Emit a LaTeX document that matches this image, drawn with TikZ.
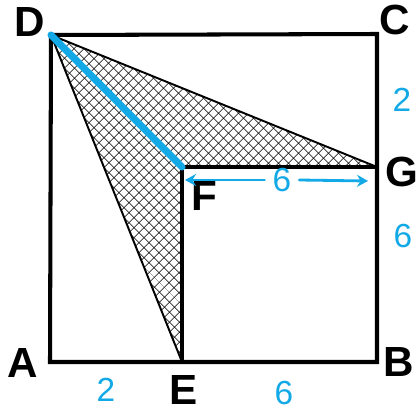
\documentclass[tikz,border=0pt]{standalone}
\usepackage{fontspec}
\setmainfont{Liberation Sans}
\usetikzlibrary{arrows.meta,patterns.meta}
\definecolor{skyblue}{HTML}{12A9E6}

\begin{document}
\begin{tikzpicture}[
  x=0.02cm, y=-0.02cm,
  side/.style={line width=2.3pt, black, line join=miter},
  thin side/.style={line width=1.1pt, black},
  hatch/.style={pattern={Lines[angle=45,distance=4pt,line width=0.4pt]}},
  hatchb/.style={pattern={Lines[angle=-45,distance=4pt,line width=0.4pt]}},
  lbl/.style={font=\fontsize{24}{24}\selectfont\bfseries, inner sep=0pt},
  num/.style={font=\fontsize{19}{19}\selectfont, text=skyblue, inner sep=1pt},
  blueline/.style={line width=4pt, skyblue, line cap=round},
  dim/.style={-{Stealth[length=2.2mm,width=2.4mm]}, line width=1.6pt, skyblue, line cap=round}
]
\useasboundingbox (0,0) rectangle (418,412);

%% Corner points
\coordinate (A) at (50,362);
\coordinate (B) at (377,362);
\coordinate (C) at (377,34);
\coordinate (D) at (51,35);
\coordinate (E) at (182,362);
\coordinate (F) at (182,167);
\coordinate (G) at (377,167);

%% Shaded triangles
\fill[hatch] (D) -- (F) -- (G) -- cycle;
\fill[hatchb] (D) -- (F) -- (G) -- cycle;
\fill[hatch] (D) -- (E) -- (F) -- cycle;
\fill[hatchb] (D) -- (E) -- (F) -- cycle;

%% Square and inner lines
\draw[thin side] (D) -- (G);
\draw[thin side] (D) -- (E);
\draw[side] (E) -- (F) -- (G);
\draw[side] (A) -- (B) -- (C) -- (D) -- cycle;
\draw[blueline] (D) -- (F);

%% Letters
\node[lbl] (la) at (23,363) {A};
\node[lbl] (lb) at (399,362) {B};
\node[lbl] (lc) at (395,20) {C};
\node[lbl] (ld) at (30,22) {D};
\node[lbl] (le) at (184,390) {E};
\node[lbl] (lf) at (204,196) {F};
\node[lbl] (lg) at (402,172) {G};

%% Lengths
\node[num] (cg) at (402,100) {2};
\node[num] (gb) at (403,236) {6};
\node[num] (ae) at (106,390) {2};
\node[num] (eb) at (284,393) {6};
\node[num] (fg) at (282,180) {6};

%% Arrow F to G
\coordinate (fa) at (185,180);
\coordinate (ga) at (368,181);
\draw[dim] (fg.west) ++(-6,0) -- (fa);
\draw[dim] (fg.east) ++(6,0) -- (ga);

\end{tikzpicture}
\end{document}
